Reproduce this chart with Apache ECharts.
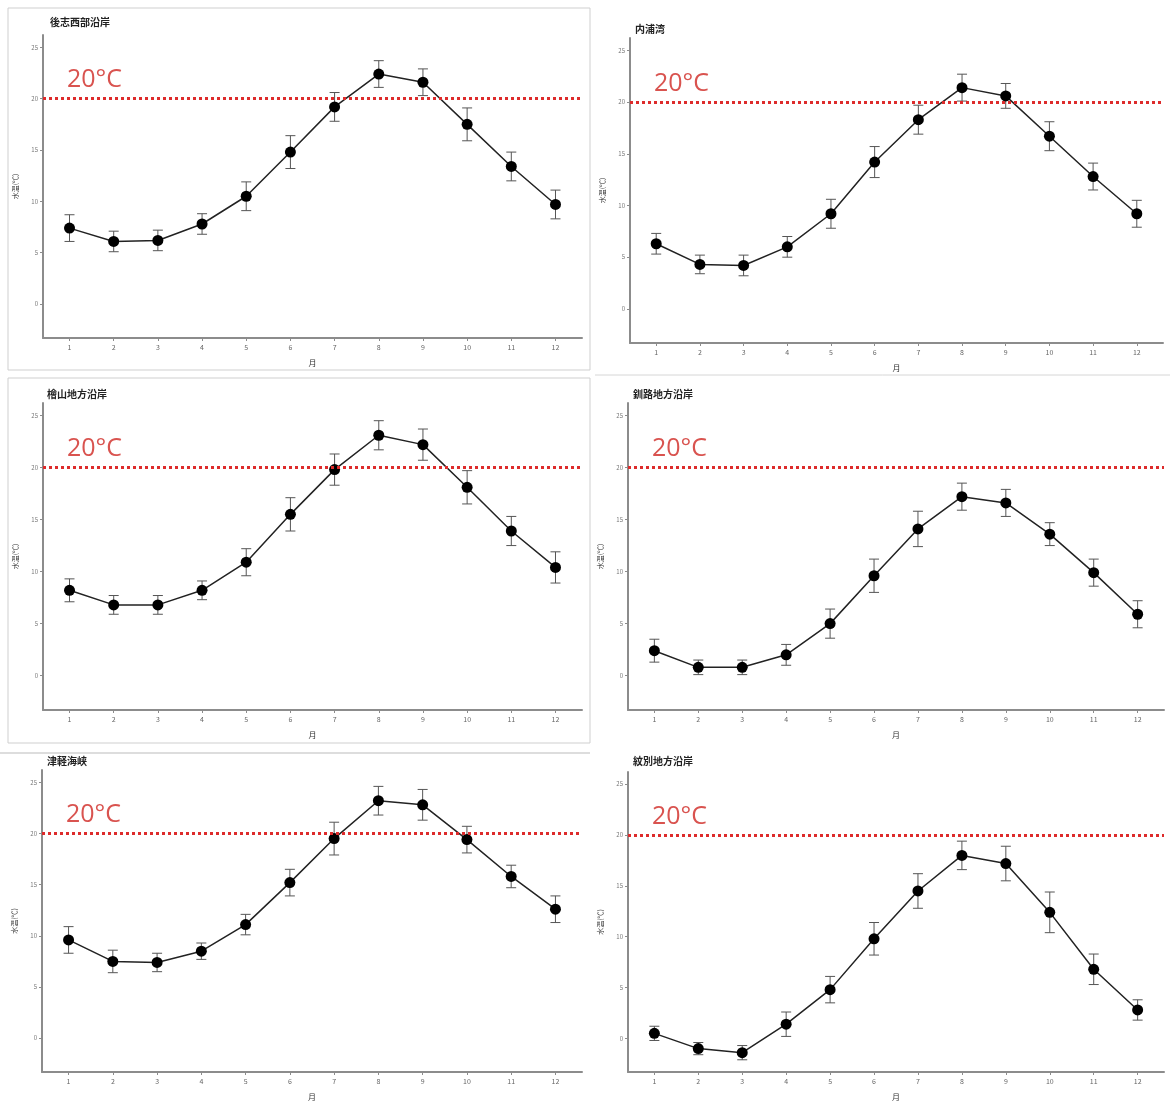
<!DOCTYPE html>
<html>
<head>
<meta charset="utf-8">
<script src="https://cdn.jsdelivr.net/npm/echarts@6/dist/echarts.min.js"></script>
<style>
html,body{margin:0;padding:0;background:#fff;}
#chart{width:1170px;height:1102px;}
</style>
</head>
<body>
<div id="chart"></div>
<script>
// ---- data ----
const months = [1,2,3,4,5,6,7,8,9,10,11,12];
const yTicks = [0,5,10,15,20,25];
const threshold = 20;
const regionNames = ['後志西部沿岸','内浦湾','檜山地方沿岸','釧路地方沿岸','津軽海峡','紋別地方沿岸'];

const shiribeshiMean = [7.4,6.1,6.2,7.8,10.5,14.8,19.2,22.4,21.6,17.5,13.4,9.7];
const shiribeshiErr  = [1.3,1.0,1.0,1.0,1.4,1.6,1.4,1.3,1.3,1.6,1.4,1.4];
const uchiuraMean = [6.3,4.3,4.2,6.0,9.2,14.2,18.3,21.4,20.6,16.7,12.8,9.2];
const uchiuraErr  = [1.0,0.9,1.0,1.0,1.4,1.5,1.4,1.3,1.2,1.4,1.3,1.3];
const hiyamaMean = [8.2,6.8,6.8,8.2,10.9,15.5,19.8,23.1,22.2,18.1,13.9,10.4];
const hiyamaErr  = [1.1,0.9,0.9,0.9,1.3,1.6,1.5,1.4,1.5,1.6,1.4,1.5];
const kushiroMean = [2.4,0.8,0.8,2.0,5.0,9.6,14.1,17.2,16.6,13.6,9.9,5.9];
const kushiroErr  = [1.1,0.7,0.7,1.0,1.4,1.6,1.7,1.3,1.3,1.1,1.3,1.3];
const tsugaruMean = [9.6,7.5,7.4,8.5,11.1,15.2,19.5,23.2,22.8,19.4,15.8,12.6];
const tsugaruErr  = [1.3,1.1,0.9,0.8,1.0,1.3,1.6,1.4,1.5,1.3,1.1,1.3];
const mombetsuMean = [0.5,-1.0,-1.4,1.4,4.8,9.8,14.5,18.0,17.2,12.4,6.8,2.8];
const mombetsuErr  = [0.7,0.6,0.7,1.2,1.3,1.6,1.7,1.4,1.7,2.0,1.5,1.0];

const meansList = [shiribeshiMean, uchiuraMean, hiyamaMean, kushiroMean, tsugaruMean, mombetsuMean];
const errsList  = [shiribeshiErr, uchiuraErr, hiyamaErr, kushiroErr, tsugaruErr, mombetsuErr];

// ---- layout (pixels) ----
const layout = [
  {left:43,  top:35,  width:539, height:303, tx:45,  ty:12},
  {left:630, top:38,  width:533, height:305, tx:630, ty:19},
  {left:43,  top:403, width:539, height:307, tx:42,  ty:384},
  {left:628, top:403, width:536, height:307, tx:628, ty:384},
  {left:42,  top:770, width:540, height:307, tx:42,  ty:751},
  {left:628, top:772, width:536, height:305, tx:628, ty:751}
];

const FONT = '"Noto Sans CJK JP", "Noto Sans", sans-serif';
const axisGray = '#8c8c8c';

const grids = [], xAxes = [], yAxes = [], series = [], titles = [];
layout.forEach((L, i) => {
  grids.push({left:L.left, top:L.top, width:L.width, height:L.height, containLabel:false});
  titles.push({text: regionNames[i], left: L.tx, top: L.ty,
    textStyle:{fontSize:10, fontWeight:'bold', color:'#222', fontFamily:FONT}});
  xAxes.push({
    gridIndex:i, type:'value', min:0.4, max:12.6,
    name:'月', nameLocation:'middle', nameGap:21,
    nameTextStyle:{fontSize:8, color:'#333', fontFamily:FONT},
    axisLine:{show:true, onZero:false, lineStyle:{color:axisGray, width:2}},
    axisTick:{show:true, length:3, customValues: months, lineStyle:{color:axisGray}},
    axisLabel:{fontSize:7, color:'#666', margin:6, customValues: months, fontFamily:FONT},
    splitLine:{show:false}
  });
  yAxes.push({
    gridIndex:i, type:'value', min:-3.3, max:26.2,
    name:'水温(℃)', nameLocation:'middle', nameGap:24, nameRotate:90,
    nameTextStyle:{fontSize:7, color:'#333', fontFamily:FONT},
    axisLine:{show:true, onZero:false, lineStyle:{color:axisGray, width:2}},
    axisTick:{show:true, length:3, customValues: yTicks, lineStyle:{color:axisGray}},
    axisLabel:{fontSize:6, color:'#777', margin:5, customValues: yTicks, fontFamily:FONT},
    splitLine:{show:false}
  });
  const mean = meansList[i], err = errsList[i];
  series.push({
    type:'custom', xAxisIndex:i, yAxisIndex:i, z:2,
    encode:{x:0, y:[1,2]},
    data: months.map((m, k) => [m, mean[k]-err[k], mean[k]+err[k]]),
    renderItem: function(params, api){
      const x = api.value(0);
      const top = api.coord([x, api.value(2)]);
      const bot = api.coord([x, api.value(1)]);
      const w = 5;
      const st = {stroke:'#555', lineWidth:1};
      return {type:'group', children:[
        {type:'line', shape:{x1:top[0], y1:top[1], x2:bot[0], y2:bot[1]}, style:st},
        {type:'line', shape:{x1:top[0]-w, y1:top[1], x2:top[0]+w, y2:top[1]}, style:st},
        {type:'line', shape:{x1:bot[0]-w, y1:bot[1], x2:bot[0]+w, y2:bot[1]}, style:st}
      ]};
    }
  });
  series.push({
    type:'line', xAxisIndex:i, yAxisIndex:i, z:3,
    data: months.map((m, k) => [m, mean[k]]),
    symbol:'circle', symbolSize:11,
    itemStyle:{color:'#000'},
    lineStyle:{color:'#222', width:1.5},
    markLine:{
      silent:true, symbol:'none',
      lineStyle:{color:'#dd2b2b', width:3, type:[3,3]},
      label:{show:true, formatter:'20°C', position:'insideStartTop', distance:[24,6],
        fontSize:25, color:'#d9534f', fontFamily:'"Open Sans", "Noto Sans", sans-serif'},
      data:[{yAxis: threshold}]
    }
  });
});

const chart = echarts.init(document.getElementById('chart'), null, {renderer:'canvas'});
chart.setOption({
  backgroundColor:'#fff',
  animation:false,
  title: titles,
  grid: grids,
  xAxis: xAxes,
  yAxis: yAxes,
  series: series,
  graphic: [
    {type:'rect', shape:{x:8, y:8, width:582, height:362}, style:{fill:'none', stroke:'#cfcfcf', lineWidth:1}, z:-1},
    {type:'rect', shape:{x:8, y:378, width:582, height:365}, style:{fill:'none', stroke:'#cfcfcf', lineWidth:1}, z:-1},
    {type:'line', shape:{x1:0, y1:753, x2:590, y2:753}, style:{stroke:'#bbb', lineWidth:1}, z:-1},
    {type:'line', shape:{x1:595, y1:375, x2:1170, y2:375}, style:{stroke:'#d6d6d6', lineWidth:1}, z:-1}
  ]
});
</script>
</body>
</html>
